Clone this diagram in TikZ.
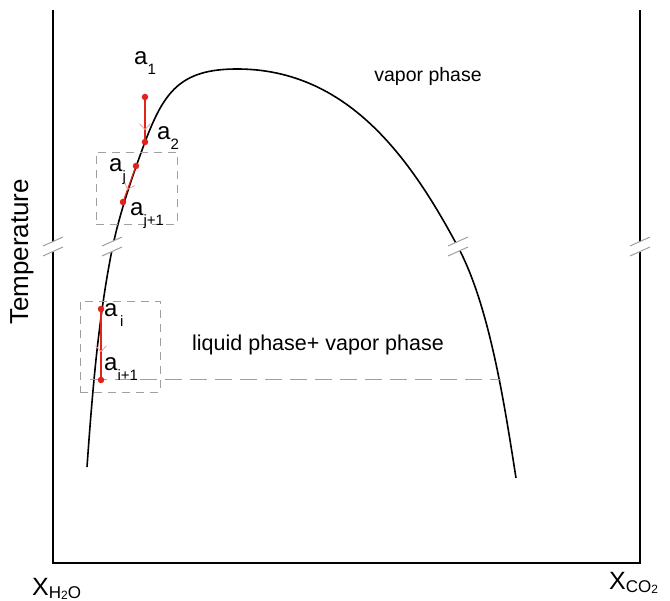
\documentclass[tikz,border=0pt]{standalone}
\usepackage{fontspec}
\setmainfont{Liberation Sans}
\usetikzlibrary{arrows.meta,decorations.markings}
\definecolor{myred}{HTML}{E2231A}
\definecolor{mygray}{HTML}{A0A0A0}
\newcommand\lblsub[2]{#1\raisebox{-0.4em}{\fontsize{15}{15}\selectfont #2}}
\tikzset{
  axisline/.style={line width=2.6pt, line join=miter},
  curveline/.style={line width=1.6pt},
  dbox/.style={draw=mygray, line width=0.9pt, dash pattern=on 8pt off 6pt},
  dline/.style={draw=mygray, line width=1pt, dash pattern=on 17pt off 8pt},
  rdot/.style={circle, fill=myred, inner sep=0pt, minimum size=6.5pt},
  redseg/.style={draw=myred, line width=1.2pt,
    decoration={markings, mark=at position #1 with {\arrow[myred!45, line width=0.8pt]{Straight Barb[length=6pt,width=11pt]}}},
    postaction={decorate}},
  lbl/.style={font=\fontsize{24}{24}\selectfont, inner sep=0pt},
  phase/.style={font=\fontsize{19.5}{19.5}\selectfont, inner sep=0pt},
  pics/brk/.style={code={
    \fill[white] (-10,0.5) -- (10,-8.5) -- (10,1.5) -- (-10,10.5) -- cycle;
    \draw[mygray, line width=1pt] (-10,0) -- (10,-9);
    \draw[mygray, line width=1pt] (-10,10) -- (10,1);
  }}
}
\begin{document}
\begin{tikzpicture}[x=1pt,y=-1pt]
\useasboundingbox (0,0) rectangle (670,601);
% axes
\coordinate (tl) at (53,10);
\coordinate (bl) at (53,563);
\coordinate (br) at (640,563);
\coordinate (tr) at (640,10);
\draw[axisline] (tl) -- (bl) -- (br) -- (tr);
% curve
\coordinate (c0) at (87,467);
\coordinate (c1) at (112,250);
\coordinate (c2) at (145,142);
\coordinate (peak) at (237,69);
\coordinate (c4) at (458,247);
\coordinate (c5) at (516,478);
\draw[curveline] (c0) .. controls (92,397) and (98,320) .. (c1)
  .. controls (119,215) and (132,177) .. (c2)
  .. controls (164,92) and (180,69) .. (peak)
  .. controls (347,69) and (410,157) .. (c4)
  .. controls (490,307) and (505,408) .. (c5);
% breaks
\pic at (53,246) {brk};
\pic at (640,246) {brk};
\pic at (112,246) {brk};
\pic at (458,246) {brk};
% dashed boxes
\node[dbox, minimum width=81pt, minimum height=72pt, inner sep=0pt] (boxj) at (136.5,188) {};
\node[dbox, minimum width=80pt, minimum height=91pt, inner sep=0pt] (boxi) at (120,346.5) {};
% dashed horizontal line
\coordinate (hl) at (90,380);
\coordinate (hr) at (501,380);
\draw[dline] (hl) -- (hr);
% points
\node[rdot] (a1) at (145,97) {};
\node[rdot] (a2) at (145,142) {};
\node[rdot] (aj) at (136,166) {};
\node[rdot] (aj1) at (123,202) {};
\node[rdot] (ai) at (101,309) {};
\node[rdot] (ai1) at (101,380) {};
\draw[redseg=0.78] (a1) -- (a2);
\draw[redseg=0.7] (aj) -- (aj1);
\draw[redseg=0.62] (ai) -- (ai1);
% labels
\node[lbl, anchor=base west] (la1) at (134,65) {\lblsub{a}{1}};
\node[lbl, anchor=base west] (la2) at (157,140) {\lblsub{a}{2}};
\node[lbl, anchor=base west] (laj) at (109,172) {\lblsub{a}{j}};
\node[lbl, anchor=base west] (laj1) at (130,216) {\lblsub{a}{j+1}};
\node[lbl, anchor=base west] (lai) at (104,317) {\lblsub{a}{\,i}};
\node[lbl, anchor=base west] (lai1) at (104,371) {\lblsub{a}{i+1}};
% phase labels
\node[phase] (vap) at (428,76) {vapor phase};
\node[phase, font=\fontsize{21.5}{21.5}\selectfont] (liq) at (318,345) {liquid phase+ vapor phase};
\node[font=\fontsize{26}{26}\selectfont, rotate=90, inner sep=0pt] (temp) at (22,252) {Temperature};
% axis labels
\node[anchor=base west, inner sep=0pt] (xh) at (32,595)
  {\fontsize{25}{25}\selectfont X\raisebox{-3pt}{\fontsize{17}{17}\selectfont H\raisebox{-1pt}{\fontsize{12}{12}\selectfont 2}O}};
\node[anchor=base west, inner sep=0pt] (xc) at (609,590)
  {\fontsize{25}{25}\selectfont X\raisebox{-3pt}{\fontsize{17}{17}\selectfont CO\raisebox{-1pt}{\fontsize{12}{12}\selectfont 2}}};
\end{tikzpicture}
\end{document}
